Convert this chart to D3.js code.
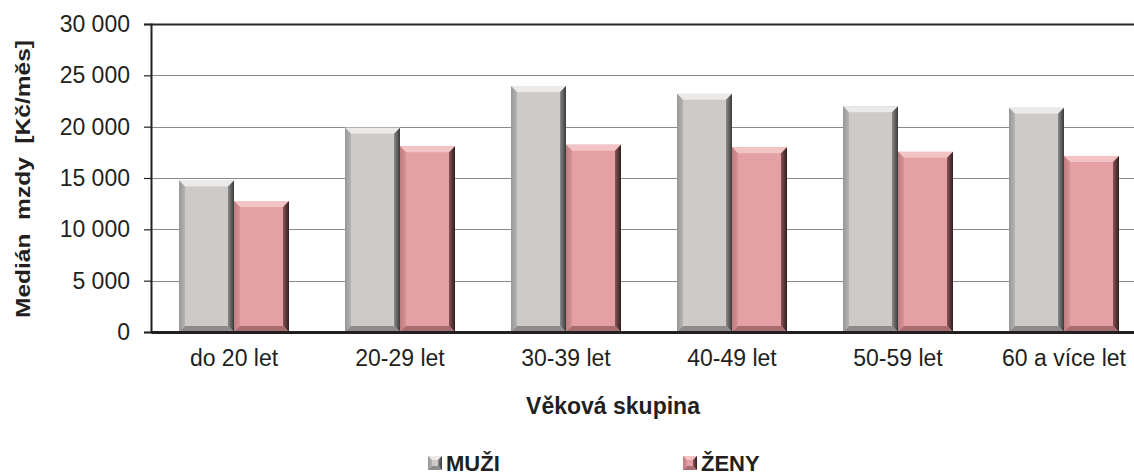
<!DOCTYPE html>
<html>
<head>
<meta charset="utf-8">
<script src="https://cdn.jsdelivr.net/npm/d3@7"></script>
<style>
  body { margin: 0; background: #fff; }
  svg text { font-family: "Liberation Sans", Arial, sans-serif; fill: #231f20; }
</style>
</head>
<body>
<div id="chart"></div>
<script>
// data
var categories = ["do 20 let", "20-29 let", "30-39 let", "40-49 let", "50-59 let", "60 a více let"];
var seriesNames = ["MUŽI", "ŽENY"];
var muzi = [14750, 19900, 23950, 23200, 22000, 21850];
var zeny = [12750, 18100, 18250, 18000, 17550, 17150];
var yTicks = [0, 5000, 10000, 15000, 20000, 25000, 30000];

var svgWidth = 1134, svgHeight = 475;
var margin = { top: 24, left: 151, bottom: 143 };
var plotWidth = 996; // runs past the right edge, as in the picture
var height = svgHeight - margin.top - margin.bottom;

var svg = d3.select("#chart").append("svg")
    .attr("width", svgWidth)
    .attr("height", svgHeight);

var defs = svg.append("defs");

// bevel colours per series
var styles = [
    { face: "#cdcac8", top: "#ebeae9", left: ["#b4b4b4", "#979797"], right: ["#8a8a8a", "#3a3a3a"], bottom: "#8e8c8b" },
    { face: "#e5a0a3", top: "#f3c4c6", left: ["#d69294", "#c07c7e"], right: ["#8a5557", "#2e1e1f"], bottom: "#a86d70" }
];

styles.forEach(function(s, i) {
    var gl = defs.append("linearGradient").attr("id", "left" + i)
        .attr("x1", 0).attr("x2", 1).attr("y1", 0).attr("y2", 0);
    gl.append("stop").attr("offset", "0%").attr("stop-color", s.left[1]);
    gl.append("stop").attr("offset", "100%").attr("stop-color", s.left[0]);
    var gr = defs.append("linearGradient").attr("id", "right" + i)
        .attr("x1", 0).attr("x2", 1).attr("y1", 0).attr("y2", 0);
    gr.append("stop").attr("offset", "0%").attr("stop-color", s.right[0]);
    gr.append("stop").attr("offset", "100%").attr("stop-color", s.right[1]);
});

var g = svg.append("g")
    .attr("transform", `translate(${margin.left}, ${margin.top})`);

var xOuter = d3.scaleBand().domain(categories).range([0, plotWidth]);

var x1 = d3.scaleBand()
    .domain(seriesNames)
    .range([0, 110]);

var y = d3.scaleLinear()
    .domain([0, 30000])
    .range([height, 0]);

var fmt = function(d) { return d3.format(",")(d).replace(/,/g, " "); };

// gridlines
g.append("g")
    .selectAll("line")
    .data(yTicks.slice(1))
    .enter()
    .append("line")
    .attr("x1", 0)
    .attr("x2", plotWidth)
    .attr("y1", d => Math.round(y(d)) + 0.5)
    .attr("y2", d => Math.round(y(d)) + 0.5)
    .attr("stroke", d => d === 30000 ? "#2b2728" : "#8a8a8a")
    .attr("stroke-width", d => d === 30000 ? 2 : 1);

// y axis
var leftAxis = d3.axisLeft(y)
    .tickValues(yTicks)
    .tickSize(7)
    .tickPadding(14)
    .tickFormat(fmt);

var yAxis = g.append("g").call(leftAxis);
yAxis.select(".domain").attr("stroke", "#231f20").attr("stroke-width", 2);
yAxis.selectAll(".tick line").attr("stroke", "#231f20").attr("stroke-width", 1.2);
yAxis.selectAll(".tick text")
    .style("font-size", "23px")
    .style("font-family", "'Liberation Sans', Arial, sans-serif")
    .attr("fill", "#231f20");

// bars
var rows = categories.map(function(c, i) {
    return { cat: c, values: [muzi[i], zeny[i]] };
});

var bevel = 6;

function drawBar(sel, bx, by, bw, bh, si) {
    var s = styles[si];
    var b = Math.min(bevel, bh / 2);
    sel.append("rect")
        .attr("x", bx).attr("y", by).attr("width", bw).attr("height", bh)
        .attr("fill", s.face);
    // top
    sel.append("polygon")
        .attr("points", [[bx, by], [bx + bw, by], [bx + bw - b, by + b], [bx + b, by + b]].join(" "))
        .attr("fill", s.top);
    // left
    sel.append("polygon")
        .attr("points", [[bx, by], [bx + b, by + b], [bx + b, by + bh - b], [bx, by + bh]].join(" "))
        .attr("fill", "url(#left" + si + ")");
    // right
    sel.append("polygon")
        .attr("points", [[bx + bw, by], [bx + bw, by + bh], [bx + bw - b, by + bh - b], [bx + bw - b, by + b]].join(" "))
        .attr("fill", "url(#right" + si + ")");
    // bottom
    sel.append("polygon")
        .attr("points", [[bx, by + bh], [bx + b, by + bh - b], [bx + bw - b, by + bh - b], [bx + bw, by + bh]].join(" "))
        .attr("fill", s.bottom);
}

var groups = g.selectAll(".grp")
    .data(rows)
    .enter()
    .append("g")
    .attr("class", "grp")
    .attr("transform", d => `translate(${xOuter(d.cat) + xOuter.bandwidth() / 2 - 55}, 0)`);

groups.each(function(d) {
    var sel = d3.select(this);
    d.values.forEach(function(v, si) {
        var bx = x1(seriesNames[si]);
        var bw = x1.bandwidth();
        var by = y(v);
        drawBar(sel.append("g"), bx, by, bw, height - by, si);
    });
});

// x axis
var bottomAxis = d3.axisBottom(xOuter).tickSize(0).tickPadding(18);
var xAxis = g.append("g")
    .attr("transform", `translate(0, ${height})`)
    .call(bottomAxis);
xAxis.select(".domain").attr("stroke", "#231f20").attr("stroke-width", 3);
xAxis.selectAll(".tick text")
    .style("font-size", "23px")
    .style("font-family", "'Liberation Sans', Arial, sans-serif")
    .attr("fill", "#231f20");

// axis titles
svg.append("text")
    .attr("transform", "rotate(-90)")
    .attr("x", -179)
    .attr("y", 30)
    .attr("text-anchor", "middle")
    .attr("textLength", 278)
    .attr("lengthAdjust", "spacingAndGlyphs")
    .style("font-size", "21px")
    .style("font-weight", "bold")
    .attr("xml:space", "preserve")
    .text("Medián  mzdy  [Kč/měs]");

svg.append("text")
    .attr("x", 613)
    .attr("y", 414)
    .attr("text-anchor", "middle")
    .style("font-size", "23px")
    .style("font-weight", "bold")
    .text("Věková skupina");

// legend
var legendX = [428, 683];
var legend = svg.selectAll(".legend")
    .data(seriesNames)
    .enter()
    .append("g")
    .attr("class", "legend")
    .attr("transform", (d, i) => `translate(${legendX[i]}, 456)`);

legend.each(function(d, i) {
    var s = styles[i];
    var sel = d3.select(this);
    sel.append("rect").attr("width", 14).attr("height", 14).attr("fill", s.face);
    sel.append("polygon").attr("points", "0,0 14,0 10,4 4,4").attr("fill", s.top);
    sel.append("polygon").attr("points", "0,0 4,4 4,10 0,14").attr("fill", "url(#left" + i + ")");
    sel.append("polygon").attr("points", "14,0 14,14 10,10 10,4").attr("fill", "url(#right" + i + ")");
    sel.append("polygon").attr("points", "0,14 4,10 10,10 14,14").attr("fill", s.bottom);
    sel.append("text")
        .attr("x", 18)
        .attr("y", 15)
        .style("font-size", "22px")
        .style("font-weight", "bold")
        .text(d);
});
</script>
</body>
</html>
